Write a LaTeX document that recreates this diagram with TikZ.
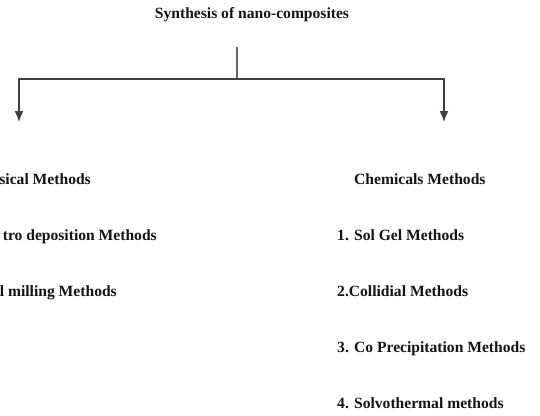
\documentclass[tikz,border=0pt]{standalone}
\usepackage{fontspec}
\setmainfont{Liberation Serif}
\usetikzlibrary{arrows.meta}
\begin{document}
\begin{tikzpicture}[x=1pt,y=-1pt,
  lbl/.style={font=\fontsize{15.6}{18}\selectfont\bfseries, inner sep=0pt, text=black!92},
  conn/.style={line width=1.4pt, draw=black!75},
  arr/.style={conn, -{Latex[length=11pt,width=9pt]}}]
\useasboundingbox (0,0) rectangle (540,415);
\fill[white] (0,0) rectangle (540,415);
% title
\node[lbl, anchor=base] (title) at (252,18.5) {Synthesis of nano-composites};
% connectors
\coordinate (stem) at (237,47);
\coordinate (junc) at (237,79);
\coordinate (la) at (19,122);
\coordinate (ra) at (444,122);
\draw[conn, draw=black!60] (stem) -- (junc);
\draw[arr] (junc) -| (la);
\draw[arr] (junc) -| (ra);
% left column (as far as the frame shows it)
\node[lbl, anchor=base east] (phys) at (91,184) {sical Methods};
\node[lbl, anchor=base east] (p1) at (157,240) {tro deposition Methods};
\node[lbl, anchor=base east] (p2) at (117,296) {l milling Methods};
% right column
\node[lbl, anchor=base west] (chem) at (354,184) {Chemicals Methods};
\node[lbl, anchor=base west] (c1) at (337,240) {1. Sol Gel Methods};
\node[lbl, anchor=base west] (c2) at (337,296) {2.Collidial Methods};
\node[lbl, anchor=base west] (c3) at (337,352) {3. Co Precipitation Methods};
\node[lbl, anchor=base west] (c4) at (337,408) {4. Solvothermal methods};
\end{tikzpicture}
\end{document}
